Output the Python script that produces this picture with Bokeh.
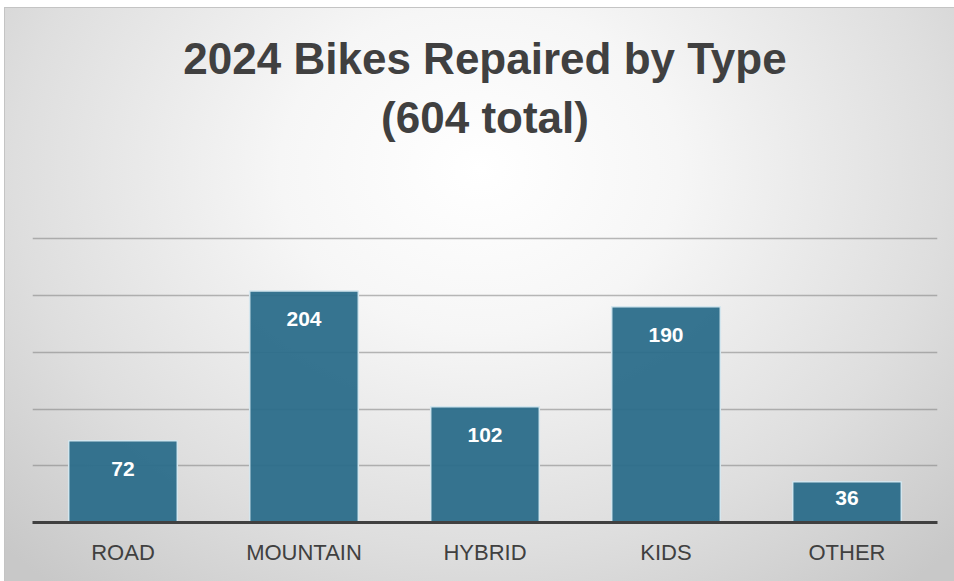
from bokeh.plotting import figure
from bokeh.models import Title, ColumnDataSource, FactorRange, Range1d, FixedTicker
from bokeh.core.properties import value
from bokeh.embed import file_html
from bokeh.resources import INLINE

categories = ["ROAD", "MOUNTAIN", "HYBRID", "KIDS", "OTHER"]
counts = [72, 204, 102, 190, 36]
grid_ticks = [50, 100, 150, 200, 250]
title_line1 = "2024 Bikes Repaired by Type"
title_line2 = "(604 total)"

label_y = [max(v - 24.6, v * 0.6) for v in counts]
src = ColumnDataSource(dict(cat=categories, val=counts, ly=label_y,
                            txt=[str(v) for v in counts]))

p = figure(width=950, height=574, output_backend="svg", toolbar_location=None,
           x_range=FactorRange(*categories, range_padding=0),
           y_range=Range1d(0, 252),
           min_border_left=27, min_border_right=18, min_border_bottom=60,
           min_border_top=228)

p.background_fill_color = None
p.border_fill_color = None
p.outline_line_color = None
p.styles = {
    "background": "radial-gradient(ellipse 70% 95% at 50% 28%, #ffffff 0%, #f6f6f6 30%, #dedede 70%, #c8c8c8 100%)",
    "border-top": "1px solid #c4c4c4",
    "border-left": "1px solid #c4c4c4",
    "margin-top": "7px",
    "margin-left": "4px",
}

p.vbar(x="cat", top="val", width=0.6, source=src,
       fill_color="#2b6d8a", fill_alpha=0.95,
       line_color="#d4e6ee", line_width=1.5)

p.text(x="cat", y="ly", text="txt", source=src,
       text_align="center", text_baseline="middle",
       text_color="white", text_font=value("Liberation Sans"),
       text_font_style="bold", text_font_size="21px")

p.ygrid.ticker = FixedTicker(ticks=grid_ticks)
p.ygrid.grid_line_color = "#808080"
p.ygrid.grid_line_alpha = 0.55
p.ygrid.grid_line_width = 1.5
p.xgrid.grid_line_color = None

p.yaxis.visible = False
xa = p.xaxis[0]
xa.axis_line_color = "#404040"
xa.axis_line_width = 3
xa.major_tick_line_color = None
xa.minor_tick_line_color = None
xa.major_label_text_font = "Liberation Sans"
xa.major_label_text_font_size = "22px"
xa.major_label_text_color = "#404040"
xa.major_label_standoff = 11

# spacer between the title block and the plot area
p.add_layout(Title(text=" ", text_font_size="1px", standoff=87), "above")
p.add_layout(Title(text=title_line2, align="center", text_font="Liberation Sans",
                   text_font_size="44px", text_font_style="bold",
                   text_color="#404040", standoff=10), "above")
p.add_layout(Title(text=title_line1, align="center", text_font="Liberation Sans",
                   text_font_size="44px", text_font_style="bold",
                   text_color="#404040", standoff=6), "above")

open("out.html", "w").write(file_html(p, INLINE))
